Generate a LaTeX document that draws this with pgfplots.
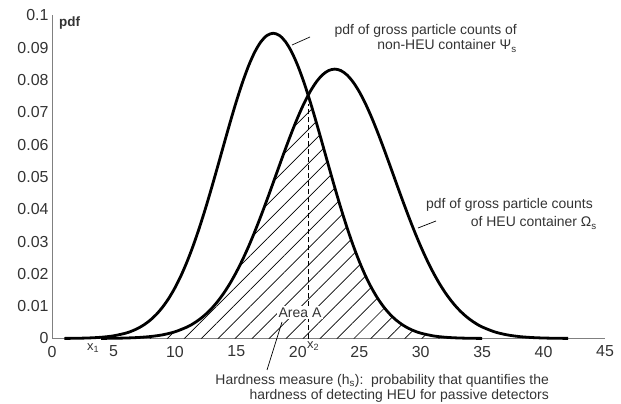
\documentclass[border=0pt]{standalone}
\usepackage{pgfplots}
\pgfplotsset{compat=1.18}
\usepackage{pgfplotstable}
\usepackage{fontspec}
\setmainfont{Liberation Sans}
\usetikzlibrary{patterns.meta}
\definecolor{txt}{HTML}{333333}
\definecolor{axg}{HTML}{808080}

\pgfplotstableread{
x y
1 0.0000283
2 0.0000715
3 0.000171
4 0.000385
5 0.000822
6 0.00166
6.5 0.00231
7 0.00316
7.5 0.00428
8 0.00570
8.5 0.00750
9 0.00973
9.5 0.01243
10 0.01567
10.5 0.01948
11 0.02388
11.5 0.02886
12 0.03440
12.5 0.04042
13 0.04684
13.5 0.05352
14 0.06030
14.5 0.06700
15 0.07340
15.5 0.07929
16 0.08446
16.5 0.08871
17 0.09188
17.5 0.09384
18 0.0945
18.5 0.09384
19 0.09188
19.5 0.08871
20 0.08446
20.5 0.07929
21 0.07340
21.5 0.06700
22 0.06030
22.5 0.05352
23 0.04684
23.5 0.04042
24 0.03440
24.5 0.02886
25 0.02388
25.5 0.01948
26 0.01567
26.5 0.01243
27 0.00973
27.5 0.00750
28 0.00570
28.5 0.00428
29 0.00316
29.5 0.00231
30 0.00166
31 0.000822
32 0.000385
33 0.000171
34 0.0000715
35 0.0000283
}\nonheu

\pgfplotstableread{
x y
4 0.000031
5 0.0000696
6 0.000150
7 0.000308
8 0.000607
9 0.00114
10 0.00207
11 0.00357
11.5 0.00462
12 0.00591
12.5 0.00747
13 0.00935
13.5 0.01158
14 0.01417
14.5 0.01716
15 0.02056
15.5 0.02436
16 0.02854
16.5 0.03309
17 0.03794
17.5 0.04302
18 0.04826
18.5 0.05355
19 0.05877
19.5 0.06379
20 0.06849
20.5 0.07274
21 0.07641
21.5 0.07939
22 0.08160
22.5 0.08295
23 0.0834
23.5 0.08295
24 0.08160
24.5 0.07939
25 0.07641
25.5 0.07274
26 0.06849
26.5 0.06379
27 0.05877
27.5 0.05355
28 0.04826
28.5 0.04302
29 0.03794
29.5 0.03309
30 0.02854
30.5 0.02436
31 0.02056
31.5 0.01716
32 0.01417
32.5 0.01158
33 0.00935
33.5 0.00747
34 0.00591
34.5 0.00462
35 0.00357
36 0.00207
37 0.00114
38 0.000607
39 0.000308
40 0.000150
41 0.0000696
42 0.000031
}\heu

\pgfplotstableread{
x y
4 0.000031
5 0.0000696
6 0.000150
7 0.000308
8 0.000607
9 0.00114
10 0.00207
11 0.00357
11.5 0.00462
12 0.00591
12.5 0.00747
13 0.00935
13.5 0.01158
14 0.01417
14.5 0.01716
15 0.02056
15.5 0.02436
16 0.02854
16.5 0.03309
17 0.03794
17.5 0.04302
18 0.04826
18.5 0.05355
19 0.05877
19.5 0.06379
20 0.06849
20.5 0.07274
20.84 0.0753
21 0.07340
21.5 0.06700
22 0.06030
22.5 0.05352
23 0.04684
23.5 0.04042
24 0.03440
24.5 0.02886
25 0.02388
25.5 0.01948
26 0.01567
26.5 0.01243
27 0.00973
27.5 0.00750
28 0.00570
28.5 0.00428
29 0.00316
29.5 0.00231
30 0.00166
31 0.000822
32 0.000385
33 0.000171
34 0.0000715
35 0.0000283
}\overlap

\begin{document}
\begin{tikzpicture}
\path[use as bounding box] (-52bp,-65.5bp) rectangle (569bp,338.5bp);
\begin{axis}[
  x=12.29bp, y=3230bp,
  xmin=0, xmax=45, ymin=0, ymax=0.1,
  axis lines*=left,
  axis line style={axg, line width=0.8bp},
  major tick length=0pt,
  clip=false,
  xtick={0,5,10,15,20,25,30,35,40,45},
  ytick={0,0.01,0.02,0.03,0.04,0.05,0.06,0.07,0.08,0.09,0.1},
  yticklabels={0,0.01,0.02,0.03,0.04,0.05,0.06,0.07,0.08,0.09,0.1},
  scaled y ticks=false,
  /pgf/number format/assume math mode=true,
  ticklabel style={font=\fontsize{16}{18}\selectfont, text=txt},
  xticklabel style={yshift=-4bp},
]
\addplot[draw=none, pattern={Lines[angle=45,distance=12bp,line width=0.7bp]}, pattern color=black] table[x=x,y=y] {\overlap} \closedcycle;
\addplot[black, line width=0.9bp, dash pattern=on 5bp off 3bp] coordinates {(20.85,0) (20.85,0.0725)};
\addplot[black, line width=2.8bp, smooth] table[x=x,y=y] {\nonheu};
\addplot[black, line width=2.8bp, smooth] table[x=x,y=y] {\heu};
\end{axis}
\begin{scope}[every node/.style={text=txt, inner sep=0pt}]
\node[anchor=base west, font=\fontsize{13.5}{15}\selectfont\bfseries] at (7bp,311.5bp) {pdf};
\node[anchor=base east, font=\fontsize{14}{16}\selectfont] at (465bp,304bp) {pdf of gross particle counts of};
\node[anchor=base east, font=\fontsize{14}{16}\selectfont] at (465bp,288.5bp) {non-HEU container Ψ\textsubscript{s}};
\draw[black, line width=0.7bp] (240bp,293.5bp) -- (258bp,301.5bp);
\node[anchor=base east, font=\fontsize{14}{16}\selectfont] at (541bp,129.5bp) {pdf of gross particle counts};
\node[anchor=base east, font=\fontsize{14}{16}\selectfont] at (545bp,111.5bp) {of HEU container Ω\textsubscript{s}};
\draw[black, line width=0.7bp] (366bp,110.5bp) -- (384bp,117.5bp);
\node[anchor=base, fill=white, inner sep=1.5bp, font=\fontsize{14}{16}\selectfont] at (248bp,21.5bp) {Area A};
\draw[black, line width=0.7bp] (230bp,16.5bp) -- (215bp,-31.5bp);
\node[anchor=base east, font=\fontsize{14}{16}\selectfont] at (497bp,-45.5bp) {Hardness measure (h\textsubscript{s}):\ \ probability that quantifies the};
\node[anchor=base east, font=\fontsize{14}{16}\selectfont] at (497bp,-61bp) {hardness of detecting HEU for passive detectors};
\node[anchor=base west, font=\fontsize{13}{15}\selectfont] at (35bp,-11.5bp) {x\textsubscript{1}};
\node[anchor=base west, font=\fontsize{13}{15}\selectfont] at (255bp,-9.5bp) {x\textsubscript{2}};
\end{scope}
\end{tikzpicture}
\end{document}
